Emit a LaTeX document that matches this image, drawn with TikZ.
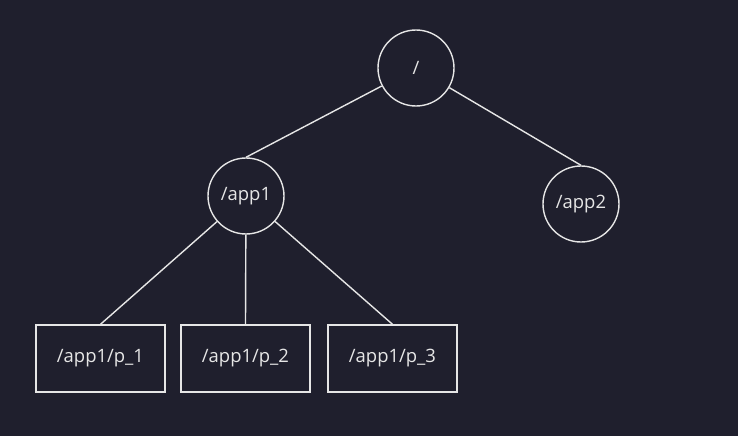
\documentclass[tikz,border=0pt]{standalone}
\usepackage{fontspec}
\setmainfont{Open Sans}
\usetikzlibrary{positioning}
\definecolor{bgcol}{HTML}{1F1F2D}
\definecolor{fgcol}{HTML}{E6E6E6}
\begin{document}
\begin{tikzpicture}[x=0.02cm, y=-0.02cm, thick, draw=fgcol,
					every node/.style={text=fgcol, font=\fontsize{10.5}{12}\selectfont},
					dir/.style={circle, draw=fgcol, minimum size=76*0.02cm, inner sep=0pt},
					leaf/.style={rectangle, draw=fgcol, minimum width=129*0.02cm, minimum height=67*0.02cm}]
					\fill[bgcol] (0,0) rectangle (738,436);
					\node[dir]   (root)  at (416,68)      {/};
					\node[dir]   (app1)  at (246,196)     {/app1};
					\node[dir]   (app2)  at (581,204)     {/app2};
					\node[leaf]  (p1)    at (100.5,358.5) {/app1/p\_1};
					\node[leaf]  (p2)    at (245.5,358.5) {/app1/p\_2};
					\node[leaf]  (p3)    at (392.5,358.5) {/app1/p\_3};
					
					%Arestas
					\path[draw=fgcol]
					(root) edge (app1.north)
					(root) edge (app2.north)
					(app1) edge (p1.north)
					(app1) edge (p2.north)
					(app1) edge (p3.north);
				\end{tikzpicture}
\end{document}
